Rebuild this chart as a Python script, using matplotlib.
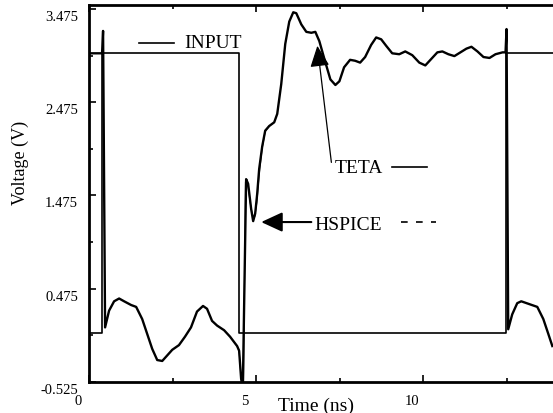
import matplotlib
matplotlib.use("Agg")
import matplotlib.pyplot as plt
import matplotlib.transforms as mtransforms

plt.rcParams["font.family"] = ["Liberation Serif", "DejaVu Serif"]

# input pulse (V vs ns)
input_t = [0.0, 0.39, 0.39, 4.49, 4.49, 12.46, 12.46, 14.0]
input_v = [0.0, 0.0, 3.0, 3.0, 0.0, 0.0, 3.0, 3.0]

# TETA output
teta_t = [0.0, 0.39, 0.42, 0.48, 0.60, 0.75, 0.90, 1.05, 1.26, 1.41, 1.59, 1.74,
          1.89, 2.04, 2.19, 2.34, 2.49, 2.69, 2.87, 3.05, 3.23, 3.41, 3.53, 3.68,
          3.83, 4.04, 4.22, 4.43, 4.49, 4.55, 4.60, 4.70, 4.76, 4.85, 4.91, 4.97,
          5.03, 5.09, 5.18, 5.27, 5.39, 5.54, 5.63, 5.75, 5.87, 5.99, 6.11, 6.20,
          6.35, 6.50, 6.65, 6.77, 6.89, 7.04, 7.22, 7.37, 7.49, 7.63, 7.81, 7.96,
          8.11, 8.26, 8.44, 8.59, 8.74, 8.89, 9.07, 9.28, 9.46, 9.67, 9.88, 10.06,
          10.24, 10.42, 10.57, 10.75, 10.93, 11.11, 11.29, 11.44, 11.62, 11.80,
          11.98, 12.16, 12.37, 12.46, 12.49, 12.54, 12.66, 12.81, 12.93, 13.17,
          13.41, 13.59, 13.74, 13.86]
teta_v = [3.0, 3.0, 3.24, 0.06, 0.24, 0.34, 0.37, 0.34, 0.30, 0.28, 0.15, -0.01,
          -0.17, -0.29, -0.30, -0.24, -0.18, -0.13, -0.04, 0.06, 0.23, 0.29, 0.26, 0.13,
          0.08, 0.03, -0.04, -0.14, -0.19, -0.49, -0.60, 1.65, 1.60, 1.33, 1.20, 1.28,
          1.49, 1.76, 2.00, 2.17, 2.22, 2.26, 2.35, 2.67, 3.10, 3.34, 3.44, 3.43,
          3.31, 3.23, 3.22, 3.23, 3.13, 2.94, 2.72, 2.66, 2.70, 2.85, 2.93, 2.92,
          2.90, 2.96, 3.09, 3.17, 3.15, 3.08, 3.00, 2.99, 3.02, 2.98, 2.90, 2.87,
          2.94, 3.01, 3.02, 2.99, 2.97, 3.01, 3.05, 3.07, 3.02, 2.96,
          2.95, 2.99, 3.01, 3.01, 3.26, 0.04, 0.20, 0.32, 0.34, 0.31,
          0.28, 0.15, -0.01, -0.14]

# HSPICE output (only visible apart from TETA near the 5 ns edge)
hspice_t = [4.43, 4.49, 4.55, 4.62, 4.68, 4.74, 4.82, 4.90, 4.96, 5.02, 5.09, 5.18, 5.27, 5.39]
hspice_v = [-0.14, -0.19, -0.49, -0.60, 1.62, 1.62, 1.40, 1.24, 1.25, 1.40, 1.70, 1.98, 2.16, 2.22]

fig = plt.figure(figsize=(5.53, 4.14), dpi=100)
ax = fig.add_axes([0.161, 0.075, 0.839, 0.9105])

ax.plot(input_t, input_v, color="black", lw=1.2)
ax.plot(hspice_t, hspice_v, color="#333333", lw=0.8)
ax.plot(teta_t, teta_v, color="black", lw=1.7)

ax.set_xlim(0, 13.88)
ax.set_ylim(-0.525, 3.518)

ax.set_xticks([0, 5, 10])
ax.set_xticks([2.5, 7.5, 12.5], minor=True)
ax.set_yticks([-0.525, 0.475, 1.475, 2.475, 3.475])
ax.set_yticks([-0.025, 0.975, 1.975, 2.975], minor=True)
ax.set_yticklabels(["-0.525", "0.475", "1.475", "2.475", "3.475"])

ax.tick_params(which="both", direction="in", top=True, right=False, width=1.2)
ax.tick_params(which="major", length=5)
ax.tick_params(which="minor", length=3)
ax.tick_params(axis="y", labelsize=10.5, pad=8)
ax.tick_params(axis="x", labelsize=10.5, pad=9)

for s in ["left", "bottom", "top"]:
    ax.spines[s].set_linewidth(2.0)
ax.spines["right"].set_visible(False)

# tick labels sit a little off their ticks in the original
dx = mtransforms.ScaledTranslation(-11 / 100, 0, fig.dpi_scale_trans)
dy = mtransforms.ScaledTranslation(0, -6 / 100, fig.dpi_scale_trans)
for lab in ax.get_xticklabels():
    lab.set_transform(lab.get_transform() + dx)
for lab in ax.get_yticklabels():
    lab.set_transform(lab.get_transform() + dy)

ax.set_ylabel("Voltage (V)", fontsize=13)
ax.yaxis.set_label_coords(-0.130, 0.584)
ax.set_xlabel("Time (ns)", fontsize=14)
ax.xaxis.set_label_coords(0.489, -0.038)

# legend-like annotations
ax.plot([1.5, 2.54], [3.11, 3.11], color="black", lw=1.2)
ax.text(2.84, 3.12, "INPUT", fontsize=14, va="center", ha="left")

ax.text(7.34, 1.78, "TETA", fontsize=14, va="center", ha="left")
ax.plot([9.07, 10.12], [1.78, 1.78], color="black", lw=1.2)
ax.annotate("", xy=(6.83, 3.08), xytext=(7.25, 1.83),
            arrowprops=dict(arrowstyle="-|>,head_length=1.3,head_width=0.6",
                            color="black", lw=0.9, mutation_scale=10,
                            shrinkA=0, shrinkB=0))

ax.text(6.74, 1.16, "HSPICE", fontsize=14, va="center", ha="left")
ax.plot([9.34, 10.39], [1.19, 1.19], color="black", lw=1.2, dashes=(4, 5))
ax.annotate("", xy=(5.15, 1.19), xytext=(6.65, 1.19),
            arrowprops=dict(arrowstyle="-|>,head_length=1.3,head_width=0.6",
                            color="black", lw=1.5, mutation_scale=10,
                            shrinkA=0, shrinkB=0))

fig.savefig("out.png", dpi=100)
